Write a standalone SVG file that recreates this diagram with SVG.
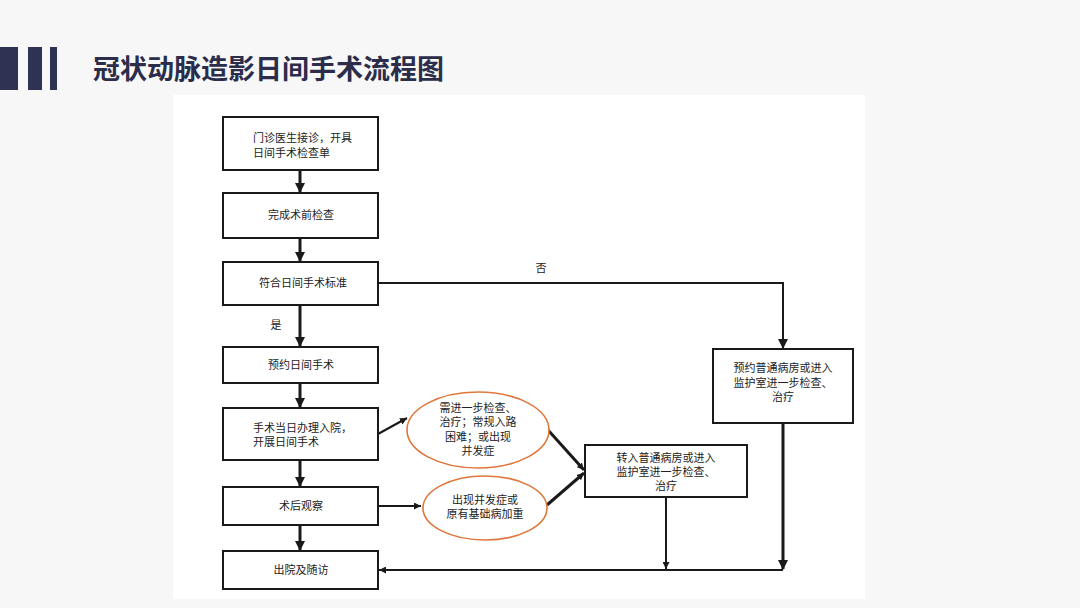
<svg xmlns="http://www.w3.org/2000/svg" width="1080" height="608" viewBox="0 0 1080 608">
<defs>
<style>
.box{fill:#fff;stroke:#1a1a1a;stroke-width:2}
.ell{fill:#fff;stroke:#e0773a;stroke-width:1.6}
.t{font-family:"Noto Sans CJK SC","Noto Sans",sans-serif;font-size:11px;fill:#222}
.c{text-anchor:middle}
.ln{fill:none;stroke:#1a1a1a;stroke-width:2}
.lnb{fill:none;stroke:#1a1a1a;stroke-width:3}
.bar{fill:#2e3253}
</style>
<marker id="ah" markerWidth="10" markerHeight="10" refX="9" refY="5" orient="auto" markerUnits="userSpaceOnUse" viewBox="0 0 10 10">
<path d="M0,0 L10,5 L0,10 Z" fill="#1a1a1a"/>
</marker>
<marker id="ahs" markerWidth="7" markerHeight="7" refX="7" refY="3.5" orient="auto" markerUnits="userSpaceOnUse" viewBox="0 0 7 7">
<path d="M0,0 L7,3.5 L0,7 Z" fill="#1a1a1a"/>
</marker>
</defs>
<rect x="0" y="0" width="1080" height="608" fill="#f7f7f8"/>
<rect x="173" y="95" width="692" height="504" fill="#fff"/>
<g id="title">
<rect class="bar" x="0" y="47" width="18" height="43"/>
<rect class="bar" x="28" y="47" width="14" height="43"/>
<rect class="bar" x="50" y="47" width="7" height="43"/>
<text x="93" y="79" font-family="'Noto Sans CJK SC',sans-serif" font-size="27" font-weight="bold" fill="#2b2d4a">冠状动脉造影日间手术流程图</text>
</g>
<g id="connectors">
<line class="lnb" x1="300" y1="170" x2="300" y2="192" marker-end="url(#ah)"/>
<line class="lnb" x1="300" y1="238" x2="300" y2="261" marker-end="url(#ah)"/>
<line class="lnb" x1="300" y1="305" x2="300" y2="346" marker-end="url(#ah)"/>
<line class="lnb" x1="300" y1="383" x2="300" y2="407" marker-end="url(#ah)"/>
<line class="lnb" x1="300" y1="460" x2="300" y2="486" marker-end="url(#ah)"/>
<line class="lnb" x1="300" y1="525" x2="300" y2="550" marker-end="url(#ah)"/>
<polyline class="ln" points="378,283 783,283 783,348" marker-end="url(#ah)"/>
<line class="ln" x1="378" y1="434" x2="407" y2="418" marker-end="url(#ahs)"/>
<line class="ln" x1="378" y1="506" x2="421" y2="506" marker-end="url(#ahs)"/>
<line class="lnb" x1="548" y1="430" x2="584" y2="470" marker-end="url(#ahs)"/>
<line class="lnb" x1="547" y1="505" x2="584" y2="473" marker-end="url(#ahs)"/>
<line class="ln" x1="666" y1="497" x2="666" y2="569" marker-end="url(#ahs)"/>
<line class="lnb" x1="783" y1="423" x2="783" y2="569" marker-end="url(#ah)"/>
<line class="ln" x1="783" y1="570" x2="379" y2="570" marker-end="url(#ahs)"/>
<text class="t c" x="276" y="329">是</text>
<text class="t c" x="541" y="272">否</text>
</g>
<g id="n1">
<rect class="box" x="223" y="117" width="155" height="53"/>
<text class="t" x="253" y="142">门诊医生接诊，开具</text>
<text class="t" x="253" y="157">日间手术检查单</text>
</g>
<g id="n2">
<rect class="box" x="223" y="193" width="155" height="45"/>
<text class="t c" x="301" y="219">完成术前检查</text>
</g>
<g id="n3">
<rect class="box" x="223" y="262" width="155" height="43"/>
<text class="t c" x="303" y="287">符合日间手术标准</text>
</g>
<g id="n4">
<rect class="box" x="223" y="347" width="155" height="36"/>
<text class="t c" x="301" y="369">预约日间手术</text>
</g>
<g id="n5">
<rect class="box" x="223" y="408" width="155" height="52"/>
<text class="t" x="253" y="432">手术当日办理入院，</text>
<text class="t" x="253" y="446">开展日间手术</text>
</g>
<g id="n6">
<rect class="box" x="223" y="487" width="155" height="38"/>
<text class="t c" x="301" y="510">术后观察</text>
</g>
<g id="n7">
<rect class="box" x="223" y="551" width="155" height="38"/>
<text class="t c" x="301" y="574">出院及随访</text>
</g>
<g id="e1">
<ellipse class="ell" cx="478" cy="430" rx="71" ry="38"/>
<text class="t c" x="478" y="412">需进一步检查、</text>
<text class="t c" x="478" y="426">治疗；常规入路</text>
<text class="t c" x="478" y="441">困难；或出现</text>
<text class="t c" x="478" y="455">并发症</text>
</g>
<g id="e2">
<ellipse class="ell" cx="485" cy="508" rx="62" ry="32"/>
<text class="t c" x="485" y="504">出现并发症或</text>
<text class="t c" x="485" y="518">原有基础病加重</text>
</g>
<g id="nA">
<rect class="box" x="713" y="349" width="140" height="74"/>
<text class="t c" x="783" y="372">预约普通病房或进入</text>
<text class="t c" x="783" y="387">监护室进一步检查、</text>
<text class="t c" x="783" y="401">治疗</text>
</g>
<g id="nB">
<rect class="box" x="585" y="445" width="162" height="52"/>
<text class="t c" x="666" y="462">转入普通病房或进入</text>
<text class="t c" x="666" y="476">监护室进一步检查、</text>
<text class="t c" x="666" y="490">治疗</text>
</g>
</svg>
